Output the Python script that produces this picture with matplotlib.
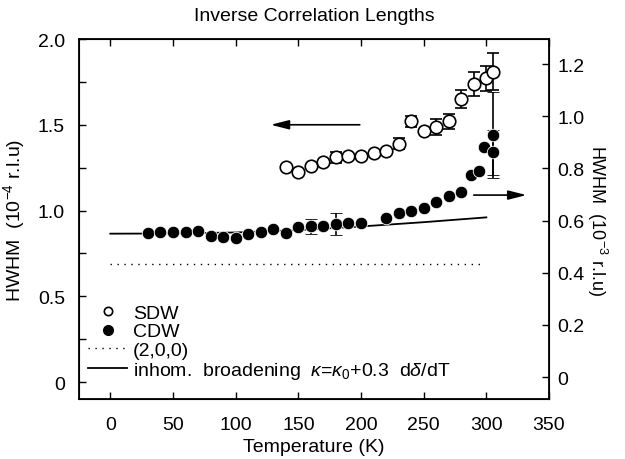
import matplotlib
matplotlib.use('Agg')
import matplotlib.pyplot as plt
import numpy as np
from matplotlib.lines import Line2D

plt.rcParams['font.family'] = ['Liberation Sans', 'DejaVu Sans']
plt.rcParams['mathtext.fontset'] = 'custom'
plt.rcParams['mathtext.rm'] = 'Liberation Sans'
plt.rcParams['mathtext.it'] = 'Liberation Sans:italic'

# SDW (open circles), HWHM in 1e-4 r.l.u
sdw_t = [140, 150, 160, 170, 180, 190, 200, 210, 220, 230, 240, 250, 260, 270, 280, 290, 300, 305]
sdw_w = [1.255, 1.222, 1.262, 1.285, 1.31, 1.32, 1.32, 1.335, 1.345, 1.39, 1.52, 1.466, 1.486, 1.52, 1.65, 1.74, 1.77, 1.81]
sdw_e = [0, 0, 0, 0, 0.03, 0, 0, 0, 0, 0.03, 0.032, 0, 0.045, 0.045, 0.05, 0.07, 0.075, 0.11]

# CDW (filled circles)
cdw_t = [30, 40, 50, 60, 70, 80, 90, 100, 110, 120, 130, 140, 150, 160, 170, 180, 190, 200,
         220, 230, 240, 250, 260, 270, 280, 288, 294, 298, 305, 305]
cdw_w = [0.871, 0.877, 0.877, 0.877, 0.883, 0.852, 0.848, 0.842, 0.863, 0.877, 0.895, 0.868,
         0.905, 0.908, 0.91, 0.92, 0.927, 0.93, 0.956, 0.983, 0.995, 1.013, 1.051, 1.086,
         1.106, 1.207, 1.232, 1.368, 1.44, 1.34]
cdw_e = [0, 0, 0, 0, 0, 0, 0, 0, 0, 0, 0, 0, 0, 0.044, 0, 0.064, 0, 0,
         0, 0, 0, 0, 0, 0, 0, 0, 0, 0, 0.25, 0.13]

# (2,0,0) resolution and inhomogeneous broadening curve
res_t = [0, 295]
res_w = [0.69, 0.69]
inh_t = [0, 50, 100, 150, 200, 250, 300]
inh_w = [0.865, 0.866, 0.872, 0.886, 0.907, 0.932, 0.96]

# arrows: (tail, head) in data coords of the left axis
arrow_left = [(199, 1.5), (128, 1.5)]
arrow_right = [(290, 1.09), (332, 1.09)]

fig = plt.figure(figsize=(6.25, 4.6), dpi=100)
ax = fig.add_axes([0.1264, 0.1304, 0.752, 0.7826])

ax.plot(inh_t, inh_w, '-', color='black', lw=1.3, zorder=1)
ax.plot(res_t, res_w, color='black', lw=1.0, dashes=(1, 4), zorder=1)

ax.errorbar(cdw_t, cdw_w, yerr=[e if e > 0 else np.nan for e in cdw_e], fmt='o', ms=9,
            mfc='black', mec='white', mew=0.6, color='black', ecolor='black',
            elinewidth=1.2, capsize=4.5, capthick=1.2, zorder=3)
ax.errorbar(sdw_t, sdw_w, yerr=[e if e > 0 else np.nan for e in sdw_e], fmt='o', ms=9,
            mfc='white', mec='black', mew=1.2, color='black', ecolor='black',
            elinewidth=1.2, capsize=4.5, capthick=1.2, zorder=4)

for (t0, y0), (t1, y1) in [arrow_left, arrow_right]:
    ax.annotate('', xy=(t1, y1), xytext=(t0, y0),
                arrowprops=dict(arrowstyle='-|>,head_length=1.1,head_width=0.28',
                                mutation_scale=10, color='black', lw=1.2,
                                shrinkA=0, shrinkB=0))

ax.set_xlim(-25, 350)
ax.set_ylim(-0.0991, 2.0)
ax.set_xticks(np.arange(0, 351, 50))
ax.set_yticks([0, 0.5, 1.0, 1.5, 2.0])
ax.set_yticklabels(['0', '0.5', '1.0', '1.5', '2.0'])
ax.set_yticks(np.arange(0.25, 2.0, 0.5), minor=True)
ax.tick_params(axis='both', which='both', direction='in', top=True, right=False,
               length=5, width=1.0, labelsize=14)
ax.tick_params(axis='y', pad=10)
ax.tick_params(axis='x', pad=12)
for s in ax.spines.values():
    s.set_linewidth(1.3)

ax.set_xlabel('Temperature (K)', fontsize=14, labelpad=4)
ax.set_ylabel(r'HWHM  (10$^{-4}$ r.l.u)', fontsize=14, labelpad=8)
ax.set_title('Inverse Correlation Lengths', fontsize=14, pad=14)

ax2 = ax.twinx()
ax2.set_ylim(-0.0844, 1.2958)
ax2.set_yticks([0, 0.2, 0.4, 0.6, 0.8, 1.0, 1.2])
ax2.set_yticklabels(['0', '0.2', '0.4', '0.6', '0.8', '1.0', '1.2'])
ax2.tick_params(axis='y', direction='in', length=5, width=1.0, labelsize=14, pad=6)
ax2.set_ylabel(r'HWHM  (10$^{-3}$ r.l.u)', fontsize=13, rotation=270, labelpad=18)

handles = [
    Line2D([], [], ls='none', marker='o', ms=6, mfc='white', mec='black', mew=1.2),
    Line2D([], [], ls='none', marker='o', ms=7, mfc='black', mec='black'),
    Line2D([], [], color='black', lw=1.0, dashes=(1, 4)),
    Line2D([], [], ls='-', color='black', lw=1.3),
]
labels = ['SDW', 'CDW', '(2,0,0)',
          r'inhom.  broadening  $\kappa$=$\kappa_0$+0.3  d$\delta$/dT']
ax.legend(handles, labels, loc='lower left', bbox_to_anchor=(0.02, 0.05),
          frameon=False, fontsize=14, handlelength=2.0, handletextpad=0.3,
          labelspacing=0.05, borderpad=0, borderaxespad=0)

fig.savefig('out.png', dpi=100)
